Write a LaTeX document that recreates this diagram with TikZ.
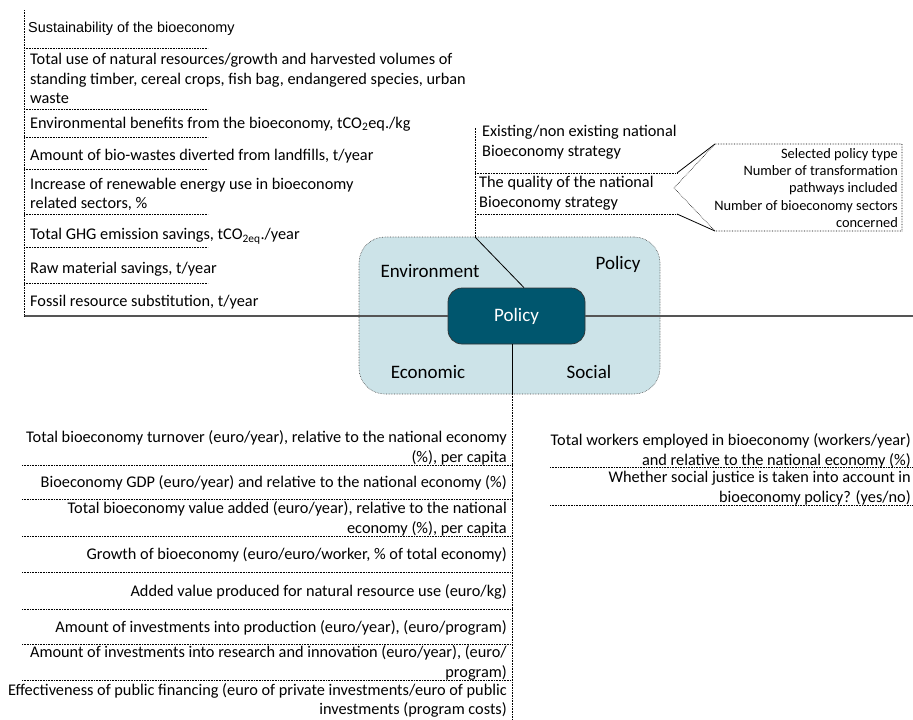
\documentclass[tikz,border=0pt]{standalone}
\usepackage{fontspec}
\setmainfont{Carlito}
\newfontfamily\arialfont{Liberation Sans}
\usepackage{tikz}
\usepackage{xcolor}
\usetikzlibrary{calc,positioning}
\definecolor{framelight}{RGB}{204,227,232}
\definecolor{coredark}{RGB}{0,86,110}
\definecolor{axisgray}{RGB}{85,85,85}
\newcommand{\listsize}{\fontsize{16.3}{19.6}\selectfont}
\newcommand{\notesize}{\fontsize{14.4}{17.3}\selectfont}
\newcommand{\labelsize}{\fontsize{19}{22}\selectfont}

\begin{document}
\begin{tikzpicture}[x=1pt,y=-1pt,
  envtxt/.style={anchor=west,align=left,inner sep=0pt,font=\listsize},
  ecotxt/.style={anchor=east,align=right,inner sep=0pt,font=\listsize},
  sepline/.style={densely dotted,line width=0.6pt},
  quadlabel/.style={inner sep=0pt,font=\labelsize}]
  \useasboundingbox (0,0) rectangle (913,720);
  % centre boxes
  \node[draw=black!70,densely dotted,line width=0.6pt,fill=framelight,rounded corners=26pt,
        minimum width=301pt,minimum height=157pt] (frame) at (509.5,315.5) {};
  \node[draw=black!80,line width=0.7pt,fill=coredark,rounded corners=14pt,text=white,
        minimum width=137pt,minimum height=56pt,font=\labelsize] (core) at (516.5,316) {Policy};
  \node[quadlabel] (env) at (430,271) {Environment};
  \node[quadlabel] (pol) at (618,264) {Policy};
  \node[quadlabel] (eco) at (428,372) {Economic};
  \node[quadlabel] (soc) at (589,372) {Social};
  % axes
  \coordinate (envtop) at (24,10);
  \coordinate (envfoot) at (24,316);
  \coordinate (axisend) at (913,316);
  \coordinate (poltop) at (475,127);
  \coordinate (polfoot) at (475,237);
  \coordinate (ecofoot) at (512,394);
  \coordinate (ecoend) at (512,720);
  \draw[axisgray,line width=1.4pt] (envfoot) -- (core.west);
  \draw[axisgray,line width=1.4pt] (core.east) -- (axisend);
  \draw[line width=0.8pt] ($(core.north)+(7.5,0)$) -- (polfoot);
  \draw[line width=0.8pt] ($(core.south)+(-4.5,0)$) -- (ecofoot);
  \draw[sepline] (polfoot) -- (poltop);
  \draw[sepline] (ecofoot) -- (ecoend);
  \draw[sepline] (envtop) -- (envfoot);
  % environment
  \node[anchor=west,inner sep=0pt,font=\arialfont\fontsize{14.4}{17}\selectfont] (env1) at (28,29) {Sustainability of the bioeconomy};
  \node[envtxt] (env2) at (30,78.7) {Total use of natural resources/growth and harvested volumes of\\standing timber, cereal crops, fish bag, endangered species, urban\\waste};
  \node[envtxt] (env3) at (30,124) {Environmental benefits from the bioeconomy, tCO\textsubscript{2}eq./kg};
  \node[envtxt] (env4) at (30,156) {Amount of bio-wastes diverted from landfills, t/year};
  \node[envtxt] (env5) at (30,194.5) {Increase of renewable energy use in bioeconomy\\related sectors, \%};
  \node[envtxt] (env6) at (30,236) {Total GHG emission savings, tCO\textsubscript{2eq}./year};
  \node[envtxt] (env7) at (30,269) {Raw material savings, t/year};
  \node[envtxt] (env8) at (30,302) {Fossil resource substitution, t/year};
  \foreach \y in {48,109,137,169,214,247,283}
    \draw[sepline] (24,\y) -- (208,\y);
  % policy
  \node[envtxt] (pol1) at (482,142) {Existing/non existing national\\Bioeconomy strategy};
  \node[envtxt] (pol2) at (479,193) {The quality of the national\\Bioeconomy strategy};
  \coordinate (polsep1) at (677,173);
  \coordinate (polsep2) at (677,214);
  \draw[sepline] (475,173) -- (polsep1);
  \draw[sepline] (475,214) -- (polsep2);
  \coordinate (notetop) at (715,144);
  \coordinate (notebot) at (715,231);
  \draw[sepline] (notetop) -- (902,144) -- (902,231) -- (notebot) -- (674,188) -- cycle;
  \draw[line width=0.8pt] (polsep1) -- (notetop);
  \draw[line width=0.8pt] (polsep2) -- (notebot);
  \node[anchor=east,align=right,inner sep=0pt,font=\notesize] (note) at (898,188)
    {Selected policy type\\Number of transformation\\pathways included\\Number of bioeconomy sectors\\concerned};
  % economic
  \node[ecotxt] (eco1) at (507,448) {Total bioeconomy turnover (euro/year), relative to the national economy\\(\%), per capita};
  \node[ecotxt] (eco2) at (507,483) {Bioeconomy GDP (euro/year) and relative to the national economy (\%)};
  \node[ecotxt] (eco3) at (507,519) {Total bioeconomy value added (euro/year), relative to the national\\economy (\%), per capita};
  \node[ecotxt] (eco4) at (507,555) {Growth of bioeconomy (euro/euro/worker, \% of total economy)};
  \node[ecotxt] (eco5) at (507,592) {Added value produced for natural resource use (euro/kg)};
  \node[ecotxt] (eco6) at (507,628) {Amount of investments into production (euro/year), (euro/program)};
  \node[ecotxt] (eco7) at (507,663) {Amount of investments into research and innovation (euro/year), (euro/\\program)};
  \node[ecotxt,font=\fontsize{16.3}{18.6}\selectfont] (eco8) at (507,700.5) {Effectiveness of public financing (euro of private investments/euro of public\\investments (program costs)};
  \foreach \y in {465,499,536,572,609,644,680}
    \draw[sepline] (22,\y) -- (512,\y);
  % social
  \node[ecotxt] (soc1) at (911,451) {Total workers employed in bioeconomy (workers/year)\\and relative to the national economy (\%)};
  \node[ecotxt] (soc2) at (911,488) {Whether social justice is taken into account in\\bioeconomy policy? (yes/no)};
  \foreach \y in {467,505}
    \draw[sepline] (550,\y) -- (913,\y);
\end{tikzpicture}
\end{document}
